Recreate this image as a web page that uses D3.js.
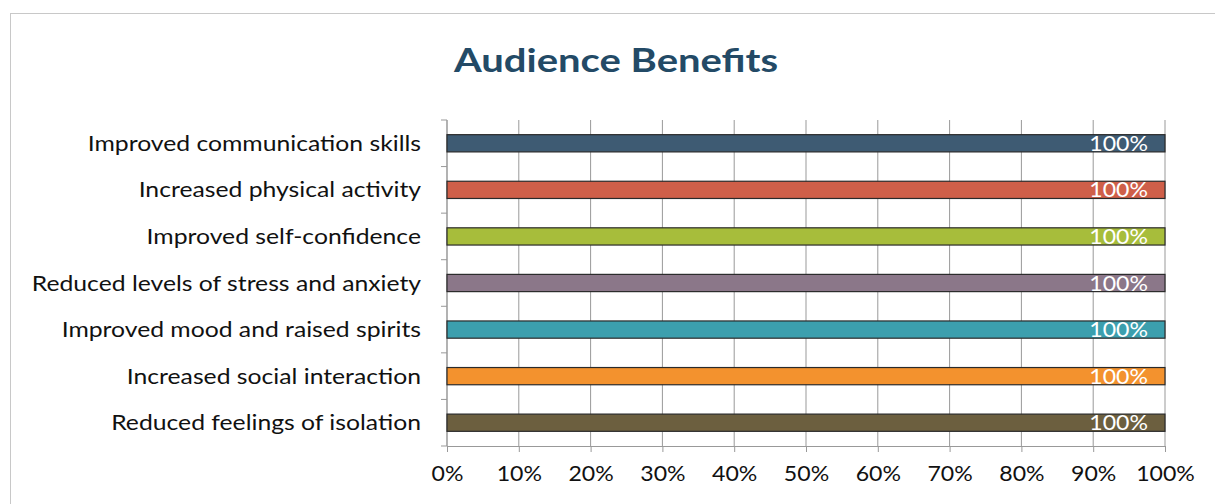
<!DOCTYPE html>
<html>
<head>
<meta charset="utf-8">
<script src="https://cdn.jsdelivr.net/npm/d3@7"></script>
<style>
  body { margin: 0; background: #fff; }
  svg { display: block; font-family: Lato, "Open Sans", sans-serif; }
</style>
</head>
<body>
<div id="chart"></div>
<script>
// Data
const categories = [
  "Improved communication skills",
  "Increased physical activity",
  "Improved self-confidence",
  "Reduced levels of stress and anxiety",
  "Improved mood and raised spirits",
  "Increased social interaction",
  "Reduced feelings of isolation"
];
const values = [100, 100, 100, 100, 100, 100, 100];
const barColors = ["#3e5b73", "#cf5f49", "#a7bd3b", "#8b7789", "#3c9fae", "#f3922e", "#6c5f3f"];
const xTicks = [0, 10, 20, 30, 40, 50, 60, 70, 80, 90, 100];

const W = 1215, H = 504;
const margin = { top: 120, right: 50, bottom: 58, left: 447 };
const width = W - margin.left - margin.right;
const height = H - margin.top - margin.bottom;

const root = d3.select("#chart")
  .append("svg")
  .attr("width", W)
  .attr("height", H);

// chart frame
root.append("rect")
  .attr("x", 10.5).attr("y", 13.5)
  .attr("width", W + 20).attr("height", H + 20)
  .attr("fill", "none")
  .attr("stroke", "#c8c8c8");

// title (the scan is a bit stretched sideways, so the text is too)
root.append("text")
  .attr("transform", "translate(616,72) scale(1.25,1)")
  .attr("text-anchor", "middle")
  .attr("font-size", 32)
  .attr("font-weight", "bold")
  .attr("fill", "#234a66")
  .text("Audience Benefits");

const svg = root.append("g")
  .attr("transform", `translate(${margin.left},${margin.top})`);

const x = d3.scaleLinear().domain([0, 100]).range([0, width]);
const y = d3.scaleBand().domain(categories).range([0, height]).paddingInner(0.63).paddingOuter(0.315);
const yEdges = d3.scaleLinear().domain([0, categories.length]).range([0, height]);

// vertical gridlines
svg.append("g")
  .selectAll("line")
  .data(xTicks)
  .enter()
  .append("line")
  .attr("x1", d => x(d)).attr("x2", d => x(d))
  .attr("y1", 0).attr("y2", height)
  .attr("stroke", "#999")
  .attr("stroke-width", 1);

// bottom axis
const xAxis = svg.append("g")
  .attr("transform", `translate(0,${height})`)
  .call(d3.axisBottom(x).tickValues(xTicks).tickFormat(d => d + "%").tickSize(6).tickPadding(14));
xAxis.select(".domain").attr("stroke", "#999");
xAxis.selectAll(".tick line").attr("stroke", "#999");
xAxis.selectAll("text")
  .attr("font-size", 21)
  .attr("fill", "#111")
  .attr("font-family", "Lato, sans-serif")
  .attr("transform", "scale(1.1,1)");

// left axis: line with ticks at category boundaries
svg.append("line")
  .attr("x1", 0).attr("x2", 0).attr("y1", 0).attr("y2", height)
  .attr("stroke", "#999");
svg.append("g")
  .selectAll("line")
  .data(d3.range(categories.length + 1))
  .enter()
  .append("line")
  .attr("x1", -6).attr("x2", 0)
  .attr("y1", d => yEdges(d)).attr("y2", d => yEdges(d))
  .attr("stroke", "#999");

// category labels
svg.append("g")
  .selectAll("text")
  .data(categories)
  .enter()
  .append("text")
  .attr("transform", d => `translate(-26,${y(d) + y.bandwidth() / 2}) scale(1.15,1)`)
  .attr("dy", "0.35em")
  .attr("text-anchor", "end")
  .attr("font-size", 21.5)
  .attr("fill", "#111")
  .text(d => d);

// bars
svg.append("g")
  .selectAll("rect")
  .data(values)
  .enter()
  .append("rect")
  .attr("x", x(0))
  .attr("y", (d, i) => y(categories[i]))
  .attr("width", d => x(d) - x(0))
  .attr("height", y.bandwidth())
  .attr("fill", (d, i) => barColors[i])
  .attr("stroke", "#2a2a2a")
  .attr("stroke-width", 1.2);

// value labels
svg.append("g")
  .selectAll("text")
  .data(values)
  .enter()
  .append("text")
  .attr("transform", (d, i) => `translate(${x(d) - 17},${y(categories[i]) + y.bandwidth() / 2}) scale(1.1,1)`)
  .attr("dy", "0.36em")
  .attr("text-anchor", "end")
  .attr("font-size", 21)
  .attr("fill", "#fff")
  .text(d => d + "%");
</script>
</body>
</html>
